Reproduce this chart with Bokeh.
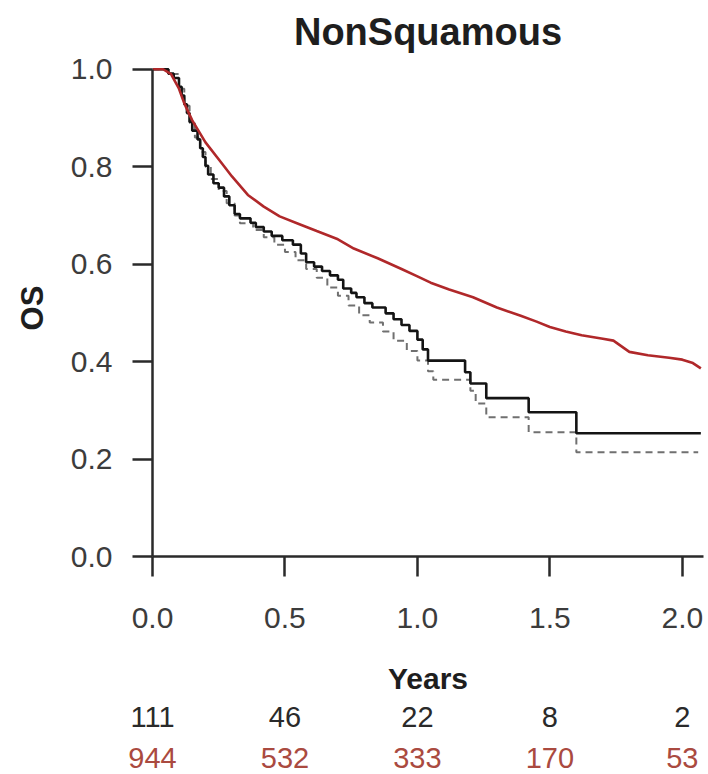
from bokeh.plotting import figure
from bokeh.models import Range1d, FixedTicker, LinearAxis, NumeralTickFormatter
from bokeh.embed import file_html
from bokeh.resources import INLINE

# Overall survival, NonSquamous subgroup (years vs. survival probability)
red_t = [0.00, 0.04, 0.07, 0.10, 0.12, 0.15, 0.20, 0.26, 0.30, 0.36, 0.42, 0.48,
         0.55, 0.62, 0.70, 0.76, 0.85, 0.94, 1.00, 1.05, 1.12, 1.21, 1.30, 1.39,
         1.45, 1.50, 1.56, 1.62, 1.70, 1.74, 1.80, 1.87, 1.95, 2.00, 2.04, 2.07]
red_s = [1.000, 1.000, 0.990, 0.960, 0.930, 0.895, 0.850, 0.808, 0.780, 0.742, 0.718, 0.698,
         0.683, 0.668, 0.651, 0.632, 0.612, 0.590, 0.575, 0.562, 0.548, 0.532, 0.511, 0.494,
         0.482, 0.471, 0.462, 0.454, 0.447, 0.443, 0.420, 0.413, 0.408, 0.404, 0.397, 0.386]

black_t = [0.00, 0.06, 0.08, 0.10, 0.11, 0.12, 0.13, 0.14, 0.15, 0.17, 0.18, 0.19, 0.20,
           0.21, 0.23, 0.25, 0.27, 0.29, 0.31, 0.33, 0.37, 0.39, 0.42, 0.45, 0.49, 0.53,
           0.56, 0.58, 0.61, 0.64, 0.67, 0.70, 0.72, 0.75, 0.77, 0.80, 0.83, 0.88, 0.91,
           0.94, 0.97, 1.00, 1.02, 1.04, 1.18, 1.20, 1.26, 1.42, 1.60, 2.07]
black_s = [1.000, 0.991, 0.982, 0.964, 0.946, 0.928, 0.910, 0.892, 0.874, 0.856, 0.838, 0.820, 0.802,
           0.784, 0.766, 0.757, 0.739, 0.721, 0.703, 0.694, 0.685, 0.676, 0.667, 0.658, 0.649, 0.640,
           0.622, 0.604, 0.595, 0.586, 0.577, 0.568, 0.550, 0.541, 0.532, 0.520, 0.511, 0.499, 0.487,
           0.475, 0.463, 0.445, 0.425, 0.402, 0.378, 0.355, 0.325, 0.296, 0.253, 0.253]

dash_t = [0.00, 0.06, 0.10, 0.12, 0.14, 0.16, 0.18, 0.20, 0.22, 0.25, 0.28, 0.31, 0.33,
          0.38, 0.42, 0.46, 0.50, 0.54, 0.58, 0.62, 0.66, 0.70, 0.74, 0.78, 0.82, 0.87,
          0.91, 0.96, 1.00, 1.04, 1.06, 1.20, 1.22, 1.26, 1.42, 1.60, 2.06]
dash_s = [1.000, 0.990, 0.960, 0.925, 0.890, 0.860, 0.830, 0.800, 0.775, 0.750, 0.725, 0.700, 0.684,
          0.670, 0.655, 0.640, 0.625, 0.608, 0.590, 0.572, 0.552, 0.535, 0.515, 0.495, 0.480, 0.462,
          0.443, 0.422, 0.402, 0.380, 0.363, 0.340, 0.314, 0.286, 0.255, 0.214, 0.214]

x_ticks = [0.0, 0.5, 1.0, 1.5, 2.0]
y_ticks = [0.0, 0.2, 0.4, 0.6, 0.8, 1.0]
risk_black = ["111", "46", "22", "8", "2"]
risk_red = ["944", "532", "333", "170", "53"]

FONT = "Liberation Sans"

p = figure(width=708, height=774, output_backend="svg", toolbar_location=None,
           x_range=Range1d(0, 2.08), y_range=Range1d(0, 1.02),
           min_border_left=152, min_border_right=5, min_border_top=59, min_border_bottom=218,
           title="NonSquamous")
p.outline_line_color = None
p.grid.visible = False
p.background_fill_color = "white"

p.title.align = "center"
p.title.text_font = FONT
p.title.text_font_size = "38px"
p.title.text_font_style = "bold"
p.title.text_color = "#1e1e1e"
p.title.standoff = 14

# survival curves
p.step(dash_t, dash_s, mode="after", line_color="#707070", line_width=2, line_dash="7 5")
p.step(black_t, black_s, mode="after", line_color="#141414", line_width=2.6)
p.line(red_t, red_s, line_color="#b0282a", line_width=2.6)

# axes
for ax in (p.xaxis[0], p.yaxis[0]):
    ax.axis_line_width = 2.5
    ax.axis_line_color = "#2a2a2a"
    ax.major_tick_line_width = 2.5
    ax.major_tick_line_color = "#2a2a2a"
    ax.major_tick_out = 20
    ax.major_tick_in = 0
    ax.minor_tick_line_color = None
    ax.major_label_text_font = FONT
    ax.major_label_text_font_size = "30px"
    ax.major_label_text_color = "#3c3c3c"
    ax.formatter = NumeralTickFormatter(format="0.0")
    ax.axis_label_text_font = FONT
    ax.axis_label_text_font_style = "bold"
    ax.axis_label_text_color = "#1e1e1e"

p.xaxis.ticker = FixedTicker(ticks=x_ticks)
p.yaxis.ticker = FixedTicker(ticks=y_ticks)
p.yaxis.bounds = (0, 1)
p.xaxis.major_label_standoff = 31
p.yaxis.major_label_standoff = 20

p.yaxis.axis_label = "OS"
p.yaxis.axis_label_text_font_size = "31px"
p.yaxis.axis_label_standoff = 18
p.xaxis.axis_label = "Years"
p.xaxis.axis_label_text_font_size = "30px"
p.xaxis.axis_label_standoff = 31

# numbers at risk, one row per group, under the time axis
for counts, color, gap in ((risk_black, "#2a2a2a", 9), (risk_red, "#aa4a40", 18)):
    row = LinearAxis(ticker=FixedTicker(ticks=x_ticks),
                     major_label_overrides={t: c for t, c in zip(x_ticks, counts)})
    row.axis_line_color = None
    row.major_tick_line_color = None
    row.minor_tick_line_color = None
    row.major_tick_out = 0
    row.major_tick_in = 0
    row.major_label_standoff = gap
    row.major_label_text_font = FONT
    row.major_label_text_font_size = "29px"
    row.major_label_text_color = color
    p.add_layout(row, "below")

open("out.html", "w").write(file_html(p, INLINE))
